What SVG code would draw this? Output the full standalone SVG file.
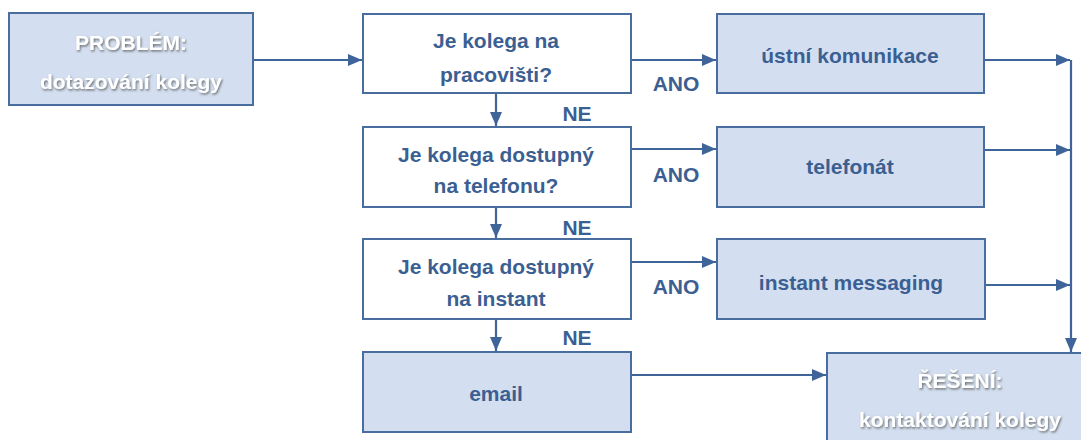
<svg xmlns="http://www.w3.org/2000/svg" width="1081" height="440" viewBox="0 0 1081 440">
<style>
.box{stroke:#4a6da0;stroke-width:2}
.fill{fill:#d3dff0}
.white{fill:#ffffff}
.t{font-family:"Liberation Sans",Arial,sans-serif;font-weight:bold;font-size:21px;fill:#3b5f92;text-anchor:middle}
.w{fill:#ffffff;filter:url(#sh)}
.c{stroke:#3e6499;stroke-width:2.2;fill:none}
</style>
<defs>
<marker id="ah" viewBox="0 0 14 12" refX="14" refY="6" markerWidth="14" markerHeight="12" markerUnits="userSpaceOnUse" orient="auto">
<path d="M0,0 L14,6 L0,12 Z" fill="#3e6499"/>
</marker>
<filter id="sh" x="-10%" y="-30%" width="120%" height="160%">
<feDropShadow dx="1" dy="1.5" stdDeviation="1.2" flood-color="#555" flood-opacity="0.8"/>
</filter>
</defs>
<g id="connectors">
<line class="c" x1="253" y1="60" x2="362" y2="60" marker-end="url(#ah)"/>
<line class="c" x1="631" y1="60" x2="716" y2="60" marker-end="url(#ah)"/>
<line class="c" x1="496" y1="93" x2="496" y2="126" marker-end="url(#ah)"/>
<line class="c" x1="631" y1="149" x2="716" y2="149" marker-end="url(#ah)"/>
<line class="c" x1="496" y1="207" x2="496" y2="238" marker-end="url(#ah)"/>
<line class="c" x1="631" y1="262" x2="716" y2="262" marker-end="url(#ah)"/>
<line class="c" x1="496" y1="319" x2="496" y2="351" marker-end="url(#ah)"/>
<line class="c" x1="628" y1="375" x2="826" y2="375" marker-end="url(#ah)"/>
<line class="c" x1="984" y1="60" x2="1070" y2="60" marker-end="url(#ah)"/>
<line class="c" x1="984" y1="150" x2="1070" y2="150" marker-end="url(#ah)"/>
<line class="c" x1="985" y1="285" x2="1070" y2="285" marker-end="url(#ah)"/>
<line class="c" x1="1071" y1="60" x2="1071" y2="352" marker-end="url(#ah)"/>
<text class="t" x="676" y="91">ANO</text>
<text class="t" x="577" y="121">NE</text>
<text class="t" x="676" y="182">ANO</text>
<text class="t" x="577" y="235">NE</text>
<text class="t" x="676" y="294">ANO</text>
<text class="t" x="577" y="345">NE</text>
</g>
<g id="problem">
<rect class="box fill" x="9" y="13" width="244" height="92"/>
<text class="t w" x="131" y="50">PROBLÉM:</text>
<text class="t w" x="131" y="89">dotazování kolegy</text>
</g>
<g id="q1">
<rect class="box white" x="363" y="14" width="268" height="79"/>
<text class="t" x="496" y="48">Je kolega na</text>
<text class="t" x="496" y="82">pracovišti?</text>
</g>
<g id="ustni">
<rect class="box fill" x="717" y="14" width="267" height="79"/>
<text class="t" x="850" y="63">ústní komunikace</text>
</g>
<g id="q2">
<rect class="box white" x="363" y="127" width="268" height="80"/>
<text class="t" x="496" y="162">Je kolega dostupný</text>
<text class="t" x="496" y="193">na telefonu?</text>
</g>
<g id="telefonat">
<rect class="box fill" x="717" y="127" width="267" height="80"/>
<text class="t" x="850" y="174">telefonát</text>
</g>
<g id="q3">
<rect class="box white" x="363" y="239" width="268" height="80"/>
<text class="t" x="496" y="274">Je kolega dostupný</text>
<text class="t" x="496" y="306">na instant</text>
</g>
<g id="im">
<rect class="box fill" x="717" y="239" width="268" height="80"/>
<text class="t" x="851" y="290">instant messaging</text>
</g>
<g id="email">
<rect class="box fill" x="363" y="352" width="268" height="80"/>
<text class="t" x="496" y="401">email</text>
</g>
<g id="reseni">
<rect class="box fill" x="827" y="353" width="266" height="95"/>
<text class="t w" x="960" y="388">ŘEŠENÍ:</text>
<text class="t w" x="960" y="427">kontaktování kolegy</text>
</g>
</svg>
